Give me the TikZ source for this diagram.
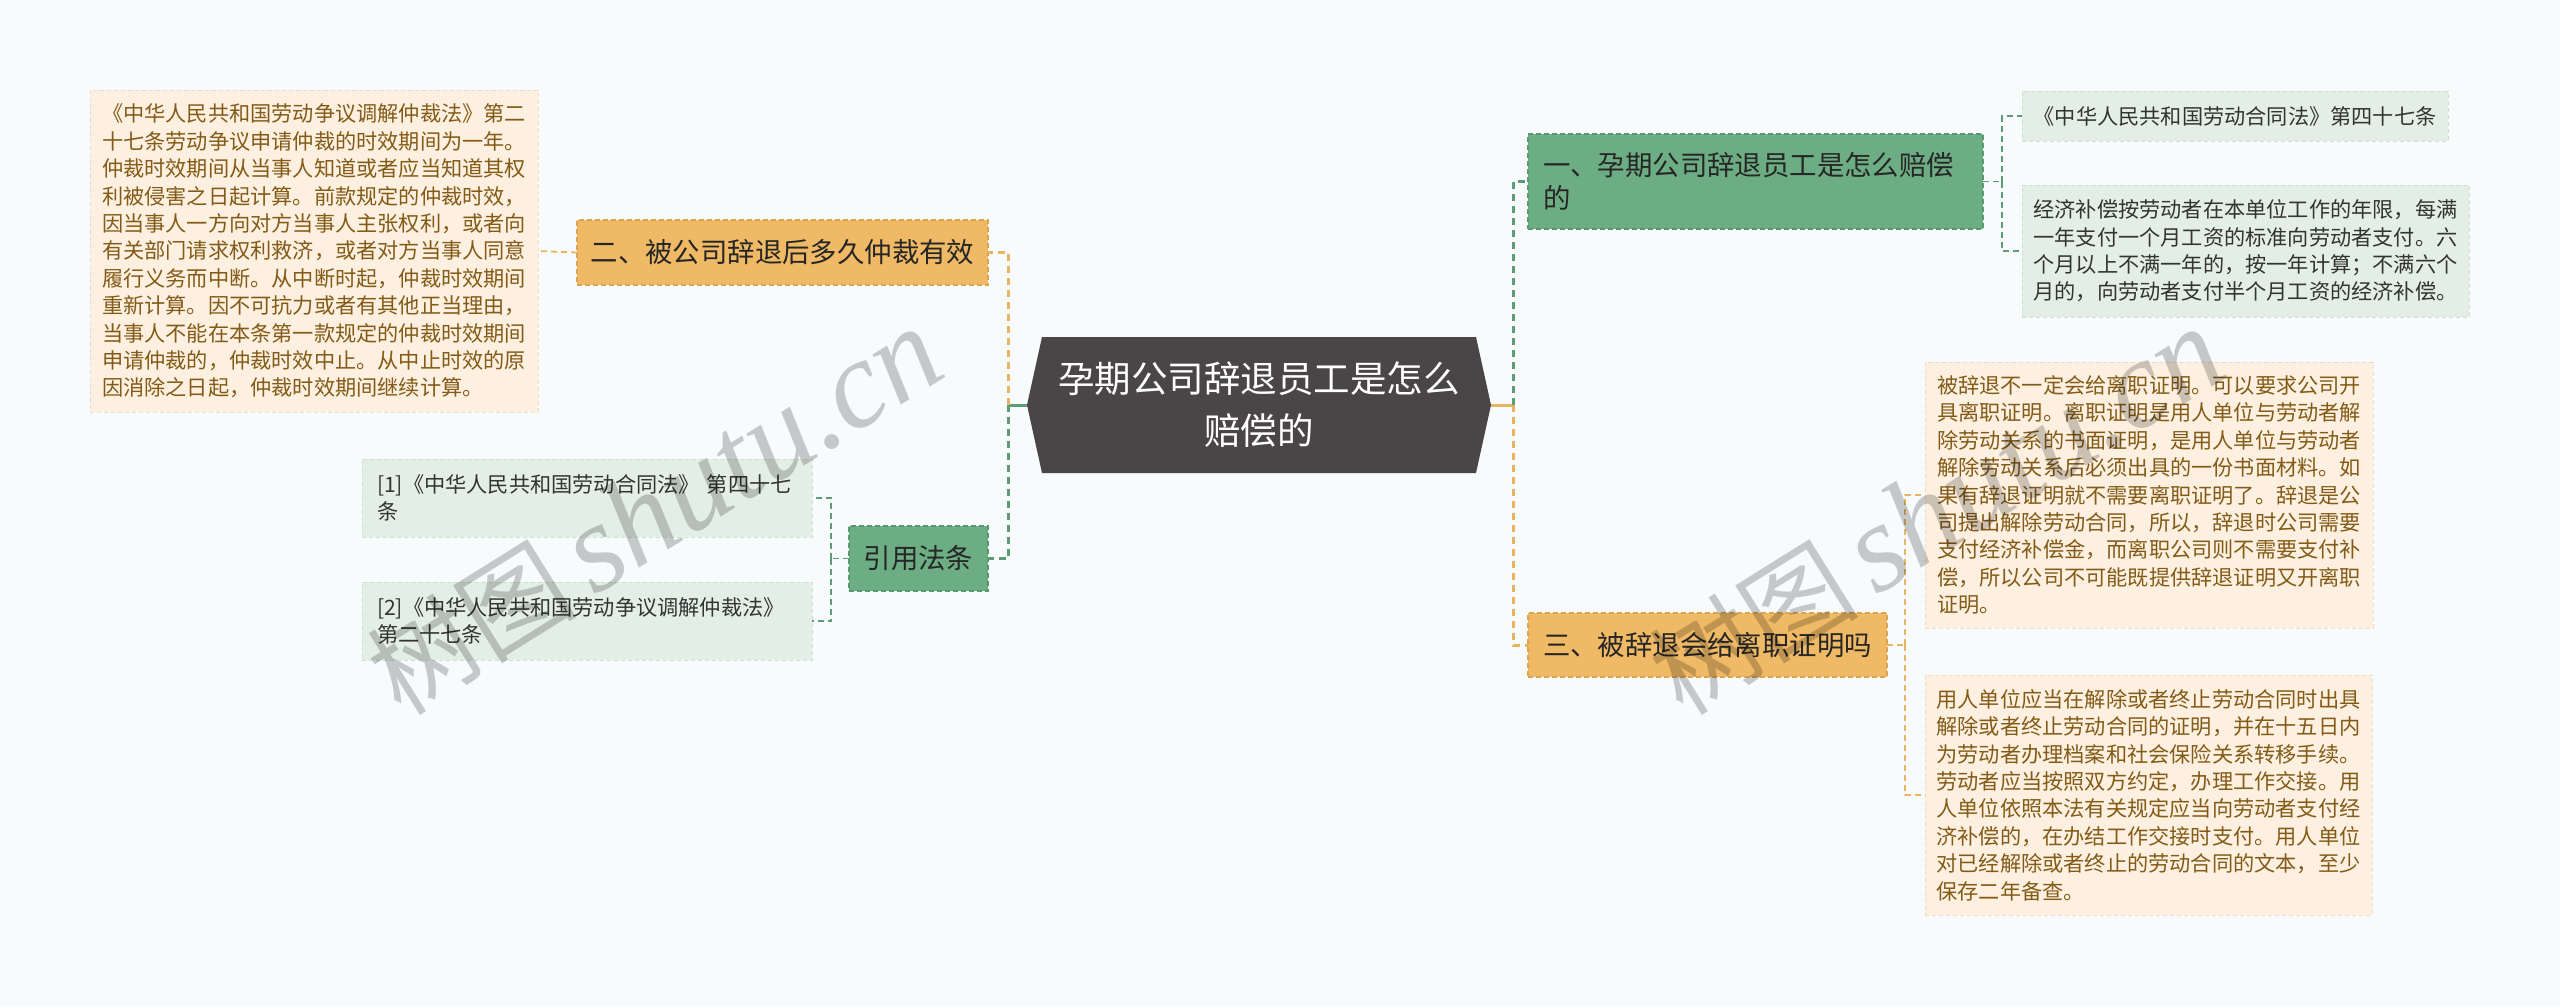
\documentclass[tikz,border=0pt]{standalone}
\usepackage{fontspec}
\setmainfont{Noto Sans CJK SC}
\newfontfamily\wmfont{Liberation Serif}
\usetikzlibrary{backgrounds,calc}
\definecolor{bg}{HTML}{F7FBFB}
\definecolor{cCenter}{HTML}{4A4546}
\definecolor{cOrg}{HTML}{EFB965}
\definecolor{cOrgD}{HTML}{DDA450}
\definecolor{cGrn}{HTML}{6DAD84}
\definecolor{cGrnD}{HTML}{579870}
\definecolor{cLOrg}{HTML}{FDF0E1}
\definecolor{cLOrgD}{HTML}{F1DCC2}
\definecolor{cLGrn}{HTML}{E3EFE6}
\definecolor{cLGrnD}{HTML}{CCDFD1}
\definecolor{cLineO}{HTML}{E8B462}
\definecolor{cLineG}{HTML}{5E9C77}
\definecolor{cBrown}{HTML}{835B16}
\definecolor{cDark}{HTML}{262626}
\definecolor{cGray}{HTML}{333333}
\begin{document}
\begin{tikzpicture}[x=1pt,y=-1pt,
  every node/.style={inner sep=0pt,outer sep=0pt},
  lvlone/.style={line width=1.2pt, dash pattern=on 5pt off 3pt, text=cDark,
    font=\fontsize{27.4}{33.6}\selectfont},
  orgnode/.style={lvlone, fill=cOrg, draw=cOrgD},
  grnnode/.style={lvlone, fill=cGrn, draw=cGrnD},
  leafbox/.style={line width=1pt, dash pattern=on 4pt off 3pt,
    font=\fontsize{21.2}{27.4}\selectfont, align=left},
  oleaf/.style={leafbox, fill=cLOrg, draw=cLOrgD, text=cBrown},
  gleaf/.style={leafbox, fill=cLGrn, draw=cLGrnD, text=cGray},
  mainO/.style={draw=cLineO, line width=3pt, dash pattern=on 7pt off 5pt},
  mainG/.style={draw=cLineG, line width=3pt, dash pattern=on 7pt off 5pt},
  subO/.style={draw=cLineO, line width=1.8pt, dash pattern=on 6pt off 4pt},
  subG/.style={draw=cLineG, line width=1.8pt, dash pattern=on 6pt off 4pt},
  wmark/.style={text=black, text opacity=0.2, rotate=32}
]
\useasboundingbox (0,0) rectangle (2560,1007);

% centre
\node[text=white, align=center, font=\fontsize{36.5}{52}\selectfont,
  minimum width=434pt, minimum height=136pt] (c) at (1259,405)
  {孕期公司辞退员工是怎么\\赔偿的};

% left side
\node[orgnode, minimum width=411pt, minimum height=65pt] (n2) at (782.5,252.5)
  {二、被公司辞退后多久仲裁有效};
\node[grnnode, minimum width=139pt, minimum height=65pt] (ny) at (918.5,558.5)
  {引用法条};
\node[oleaf, minimum width=448pt, minimum height=322pt] (l1) at (314,251)
  {《中华人民共和国劳动争议调解仲裁法》第二\\
   十七条劳动争议申请仲裁的时效期间为一年。\\
   仲裁时效期间从当事人知道或者应当知道其权\\
   利被侵害之日起计算。前款规定的仲裁时效，\\
   因当事人一方向对方当事人主张权利，或者向\\
   有关部门请求权利救济，或者对方当事人同意\\
   履行义务而中断。从中断时起，仲裁时效期间\\
   重新计算。因不可抗力或者有其他正当理由，\\
   当事人不能在本条第一款规定的仲裁时效期间\\
   申请仲裁的，仲裁时效中止。从中止时效的原\\
   因消除之日起，仲裁时效期间继续计算。};
\node[gleaf, minimum width=450pt, minimum height=78pt, text width=420pt] (c1) at (587,498)
  {[1]《中华人民共和国劳动合同法》\mbox{ }第四十七\\条};
\node[gleaf, minimum width=450pt, minimum height=78pt, text width=420pt] (c2) at (587,621)
  {[2]《中华人民共和国劳动争议调解仲裁法》\\第二十七条};

% right side
\node[grnnode, minimum width=455pt, minimum height=95pt, text width=425pt, align=left] (n1) at (1755.5,181.5)
  {一、孕期公司辞退员工是怎么赔偿\\的};
\node[orgnode, minimum width=359pt, minimum height=64pt] (n3) at (1707.5,645)
  {三、被辞退会给离职证明吗};
\node[gleaf, minimum width=426pt, minimum height=50pt] (r1) at (2235,116)
  {《中华人民共和国劳动合同法》第四十七条};
\node[gleaf, minimum width=447pt, minimum height=132pt] (r2) at (2245.5,251)
  {经济补偿按劳动者在本单位工作的年限，每满\\
   一年支付一个月工资的标准向劳动者支付。六\\
   个月以上不满一年的，按一年计算；不满六个\\
   月的，向劳动者支付半个月工资的经济补偿。};
\node[oleaf, minimum width=448pt, minimum height=266pt] (r3) at (2149,495)
  {被辞退不一定会给离职证明。可以要求公司开\\
   具离职证明。离职证明是用人单位与劳动者解\\
   除劳动关系的书面证明，是用人单位与劳动者\\
   解除劳动关系后必须出具的一份书面材料。如\\
   果有辞退证明就不需要离职证明了。辞退是公\\
   司提出解除劳动合同，所以，辞退时公司需要\\
   支付经济补偿金，而离职公司则不需要支付补\\
   偿，所以公司不可能既提供辞退证明又开离职\\
   证明。\hspace*{357pt}};
\node[oleaf, minimum width=447pt, minimum height=240pt] (r4) at (2148.5,795)
  {用人单位应当在解除或者终止劳动合同时出具\\
   解除或者终止劳动合同的证明，并在十五日内\\
   为劳动者办理档案和社会保险关系转移手续。\\
   劳动者应当按照双方约定，办理工作交接。用\\
   人单位依照本法有关规定应当向劳动者支付经\\
   济补偿的，在办结工作交接时支付。用人单位\\
   对已经解除或者终止的劳动合同的文本，至少\\
   保存二年备查。};

% junctions
\coordinate (cw) at ([xshift=-15pt]c.west);
\coordinate (ce) at ([xshift=15pt]c.east);
\coordinate (jl) at (1008,405);
\coordinate (jr) at (1513,405);
\coordinate (jy) at ([xshift=-18pt]ny.west);
\coordinate (j1) at ([xshift=19pt]n1.east);
\coordinate (j3) at ([xshift=18pt]n3.east);

\draw[cLineG, line width=3pt] (cw) -- (jl);
\draw[mainO] (jl) |- (n2.east);
\draw[mainG] (jl) |- (ny.east);
\draw[cLineO, line width=3pt] (ce) -- (jr);
\draw[mainG] (jr) |- (n1.west);
\draw[mainO] (jr) |- (n3.west);
\draw[subO] (n2.west) -- (l1.east);
\draw[subG] (ny.west) -- (jy);
\draw[subG] (jy) |- (c1.east);
\draw[subG] (jy) |- (c2.east);
\draw[subG] (n1.east) -- (j1);
\draw[subG] (j1) |- (r1.west);
\draw[subG] (j1) |- (r2.west);
\draw[subO] (n3.east) -- (j3);
\draw[subO] (j3) |- (r3.west);
\draw[subO] (j3) |- (r4.west);

% watermark
\node[wmark] (w1) at (655,512)
  {{\fontsize{105}{105}\selectfont 树图}\hspace{18pt}{\wmfont\itshape\fontsize{125}{125}\selectfont shutu.cn}};
\node[wmark] (w2) at (1937,512)
  {{\fontsize{105}{105}\selectfont 树图}\hspace{18pt}{\wmfont\itshape\fontsize{125}{125}\selectfont shutu.cn}};

\begin{scope}[on background layer]
  \fill[bg] (0,0) rectangle (2560,1007);
  \fill[cCenter] (c.north west) -- (c.north east) -- (ce) -- (c.south east)
    -- (c.south west) -- (cw) -- cycle;
\end{scope}
\end{tikzpicture}
\end{document}
